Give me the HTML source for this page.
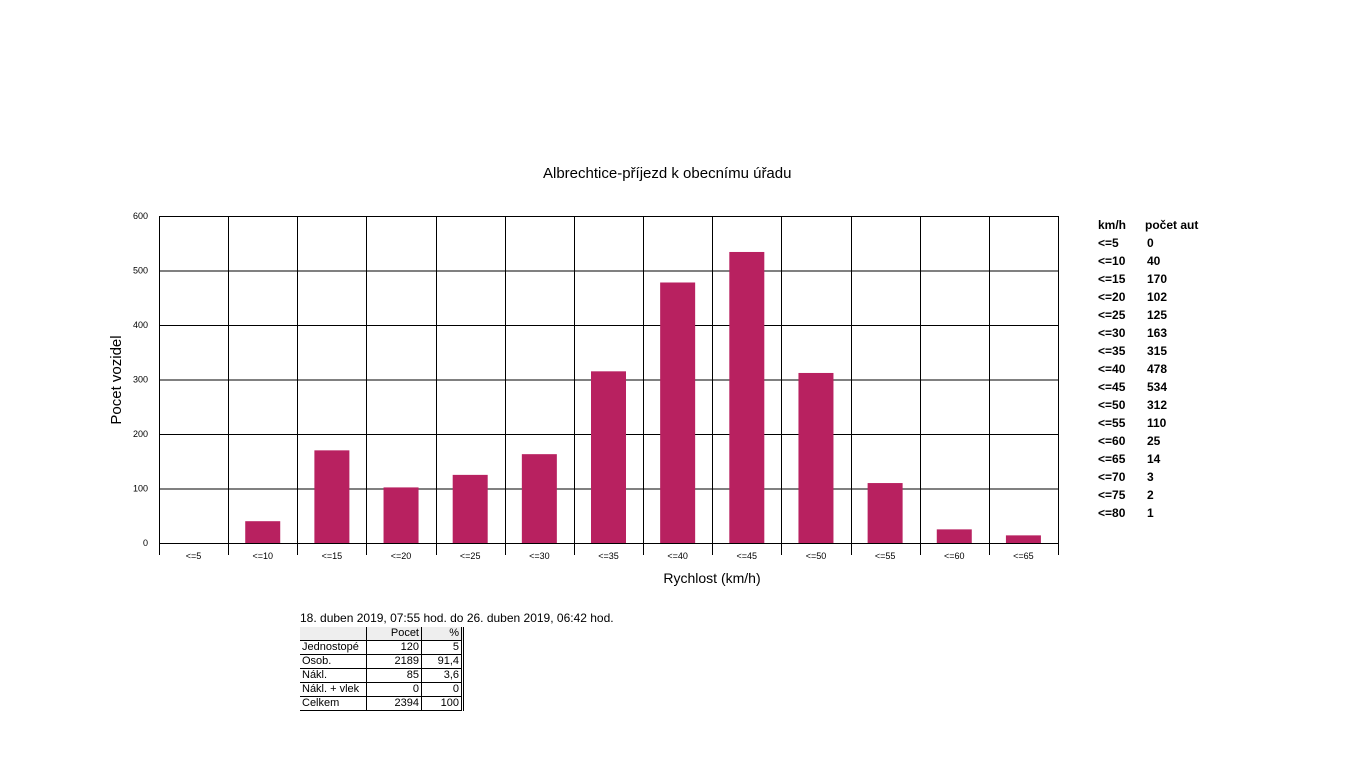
<!DOCTYPE html>
<html><head><meta charset="utf-8"><style>
body{margin:0;width:1366px;height:768px;background:#fff;overflow:hidden;font-family:"Liberation Sans",sans-serif;position:relative}
.abs{position:absolute}
#legend div{position:absolute;font-weight:bold;font-size:12px;color:#000}
table{border-collapse:collapse;font-size:11px;position:absolute;left:300px;top:627px}
td{height:13px;padding:0 2px;border-bottom:1px solid #000;border-right:1px solid #000;line-height:13px}
td.n{text-align:right}
</style></head><body>
<div class="abs" style="left:0;width:1366px;top:165px;text-align:center;font-size:15px;padding-left:0"><span style="position:absolute;left:543px">Albrechtice-příjezd k obecnímu úřadu</span></div>
<svg class="abs" style="left:0;top:0" width="1366" height="768" id="chart"></svg>
<div id="legend"></div>
<div class="abs" style="left:300px;top:611px;font-size:12px">18. duben 2019, 07:55 hod. do 26. duben 2019, 06:42 hod.</div>
<table>
<tr style="background:#eee"><td style="width:62px"></td><td class="n" style="width:50px">Pocet</td><td class="n" style="width:35px;border-right:3px double #000">%</td></tr>
<tr><td>Jednostopé</td><td class="n">120</td><td class="n" style="border-right:3px double #000">5</td></tr>
<tr><td>Osob.</td><td class="n">2189</td><td class="n" style="border-right:3px double #000">91,4</td></tr>
<tr><td>Nákl.</td><td class="n">85</td><td class="n" style="border-right:3px double #000">3,6</td></tr>
<tr><td>Nákl. + vlek</td><td class="n">0</td><td class="n" style="border-right:3px double #000">0</td></tr>
<tr><td>Celkem</td><td class="n">2394</td><td class="n" style="border-right:3px double #000">100</td></tr>
</table>
<script>
const categories=["<=5","<=10","<=15","<=20","<=25","<=30","<=35","<=40","<=45","<=50","<=55","<=60","<=65"];
const values=[0,40,170,102,125,163,315,478,534,312,110,25,14];
const yTicks=[0,100,200,300,400,500,600];
const legendLabels=["<=5","<=10","<=15","<=20","<=25","<=30","<=35","<=40","<=45","<=50","<=55","<=60","<=65","<=70","<=75","<=80"];
const legendValues=[0,40,170,102,125,163,315,478,534,312,110,25,14,3,2,1];
const NS="http://www.w3.org/2000/svg";
const svg=document.getElementById('chart');
const L=159,R=1058,T=216,B=543,yMax=600;
const bw=(R-L)/categories.length;
const y=v=>B-(v/yMax)*(B-T);
const x=i=>L+i*bw;
function mk(t,a){const e=document.createElementNS(NS,t);for(const k in a)e.setAttribute(k,a[k]);svg.appendChild(e);return e;}
yTicks.forEach(v=>{
 const l=mk('line',{x1:L,x2:R,y1:y(v)+.5,y2:y(v)+.5,stroke:'#000'});
 
 
 const t=mk('text',{x:L-11,y:y(v)+3,'font-size':9,'text-anchor':'end','font-family':'Liberation Sans'});t.textContent=v;
 
 
});
for(let i=0;i<=categories.length;i++){
 const l=mk('line',{x1:Math.round(x(i))+.5,x2:Math.round(x(i))+.5,y1:T,y2:B+12,stroke:'#000'});
 
 
}
categories.forEach((c,i)=>{
 const cx=x(i)+bw/2;
 if(values[i]>0){
 const r=mk('rect',{x:cx-17.5,y:y(values[i]),width:35,height:B-y(values[i]),fill:'#b82160'});
 
 }
 const t=mk('text',{x:cx,y:559,'font-size':9,'text-anchor':'middle','font-family':'Liberation Sans'});t.textContent=c;
 
 
});
const yt=mk('text',{x:0,y:0,'font-size':15,'text-anchor':'middle','font-family':'Liberation Sans',transform:'translate(121,380) rotate(-90)'});yt.textContent='Pocet vozidel';


const xt=mk('text',{x:712,y:583,'font-size':14,'text-anchor':'middle','font-family':'Liberation Sans'});xt.textContent='Rychlost (km/h)';


const lg=document.getElementById('legend');
function ld(txt,l,t,n){const d=document.createElement('div');d.textContent=txt;d.style.left=l+'px';d.style.top=t+'px';
 
 
 lg.appendChild(d);}
ld('km/h',1098,218,'legend-header-speed');ld('počet aut',1145,218,'legend-header-count');
legendLabels.forEach((s,i)=>{ld(s,1098,236+i*18,'legend-speed');ld(String(legendValues[i]),1147,236+i*18,'legend-count');});
</script>
</body></html>
